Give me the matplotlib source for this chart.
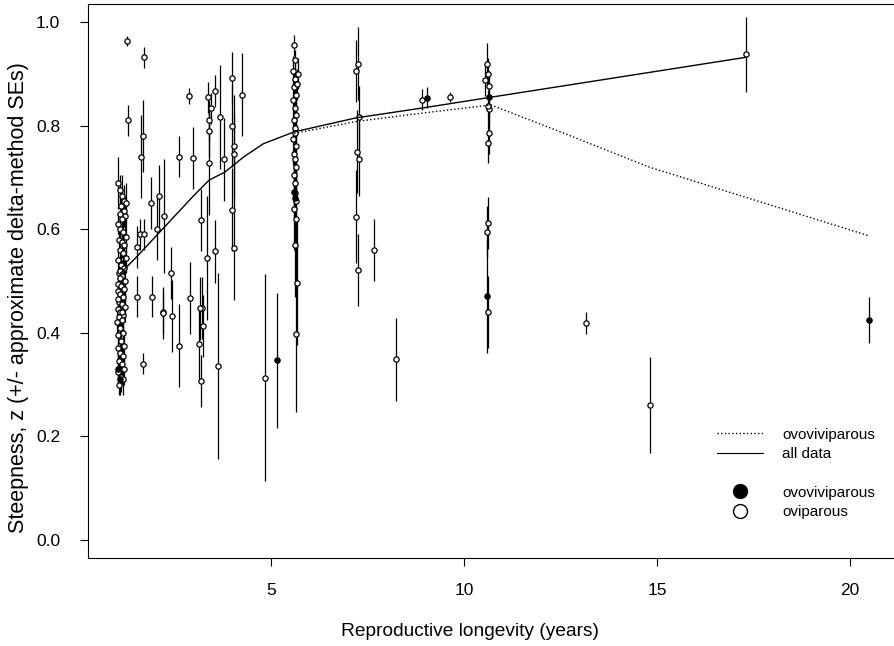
import matplotlib
matplotlib.use("Agg")
import matplotlib.pyplot as plt
from matplotlib.lines import Line2D

plt.rcParams['font.family'] = ['Liberation Sans', 'DejaVu Sans']

# oviparous species: longevity, steepness z, approximate SE
ovi_x = [1.05, 1.10, 1.15, 1.20, 1.25, 1.12, 1.18, 1.08, 1.22, 1.14,
         1.05, 1.10, 1.17, 1.25, 1.06, 1.13, 1.20, 1.09, 1.16, 1.24,
         1.04, 1.11, 1.19, 1.07, 1.15, 1.23, 1.05, 1.12, 1.18, 1.03,
         1.09, 1.16, 1.06, 1.13, 1.21, 1.04, 1.10, 1.17, 1.07, 1.14,
         1.02, 1.09, 1.16, 1.05, 1.12, 1.19, 1.03, 1.10, 1.16, 1.06,
         1.13, 1.20, 1.04, 1.11, 1.17, 1.07, 1.14, 1.05, 1.10, 1.08,
         1.26, 1.71, 1.29, 1.69, 1.63, 1.89, 2.10, 2.24, 2.04, 1.62,
         1.70, 1.53, 1.53, 1.93, 2.20, 2.41, 2.62, 2.98, 2.88, 3.19,
         3.34, 2.89, 3.21, 3.37, 3.55, 3.44, 3.40, 3.39, 3.68, 3.39,
         3.55, 3.78, 4.00, 3.98, 4.04, 4.04, 3.99, 4.04, 4.26, 2.20,
         2.43, 2.62, 3.14, 3.19, 3.24, 3.16, 1.68, 3.62, 4.85,
         5.60, 5.62, 5.58, 5.63, 5.60, 5.65, 5.58, 5.62, 5.66, 5.59,
         5.63, 5.61, 5.57, 5.64, 5.60, 5.62, 5.66, 5.59, 5.63, 5.61,
         5.65, 5.60, 5.64, 5.62, 5.68, 5.66, 5.70, 5.67,
         7.25, 7.20, 7.28, 7.22, 7.28, 7.20, 7.26, 7.67, 8.24,
         8.90, 9.65, 10.60, 10.63, 10.55, 10.65, 10.66, 10.62, 10.66,
         10.62, 10.62, 10.60, 10.62, 13.16, 14.82, 17.30]
ovi_y = [0.690, 0.675, 0.665, 0.655, 0.650, 0.645, 0.635, 0.630, 0.625, 0.620,
         0.610, 0.600, 0.595, 0.585, 0.580, 0.575, 0.570, 0.560, 0.555, 0.545,
         0.540, 0.530, 0.525, 0.515, 0.510, 0.500, 0.495, 0.490, 0.485, 0.480,
         0.475, 0.470, 0.460, 0.455, 0.450, 0.445, 0.440, 0.435, 0.430, 0.425,
         0.420, 0.410, 0.400, 0.395, 0.385, 0.375, 0.370, 0.360, 0.355, 0.345,
         0.340, 0.330, 0.325, 0.315, 0.310, 0.300, 0.440, 0.465, 0.505, 0.520,
         0.964, 0.932, 0.810, 0.780, 0.740, 0.650, 0.665, 0.625, 0.600, 0.590,
         0.590, 0.566, 0.470, 0.470, 0.440, 0.515, 0.740, 0.737, 0.857, 0.617,
         0.544, 0.467, 0.448, 0.855, 0.867, 0.834, 0.810, 0.790, 0.817, 0.727,
         0.557, 0.735, 0.892, 0.800, 0.760, 0.745, 0.638, 0.564, 0.860, 0.438,
         0.432, 0.375, 0.378, 0.307, 0.413, 0.447, 0.340, 0.336, 0.313,
         0.955, 0.927, 0.905, 0.890, 0.875, 0.860, 0.850, 0.835, 0.820, 0.810,
         0.795, 0.785, 0.775, 0.760, 0.745, 0.735, 0.720, 0.705, 0.690, 0.670,
         0.655, 0.640, 0.620, 0.570, 0.497, 0.397, 0.900, 0.880,
         0.920, 0.905, 0.817, 0.750, 0.735, 0.624, 0.521, 0.560, 0.349,
         0.850, 0.855, 0.920, 0.900, 0.888, 0.876, 0.832, 0.838, 0.786,
         0.767, 0.612, 0.594, 0.440, 0.419, 0.260, 0.938]
ovi_se = [0.05, 0.03, 0.04, 0.03, 0.04, 0.02, 0.03, 0.03, 0.04, 0.05,
          0.02, 0.03, 0.04, 0.03, 0.02, 0.03, 0.02, 0.03, 0.04, 0.03,
          0.02, 0.03, 0.04, 0.02, 0.03, 0.04, 0.03, 0.02, 0.03, 0.02,
          0.03, 0.04, 0.02, 0.03, 0.03, 0.02, 0.02, 0.03, 0.02, 0.03,
          0.02, 0.04, 0.02, 0.03, 0.04, 0.03, 0.03, 0.04, 0.03, 0.03,
          0.04, 0.03, 0.03, 0.03, 0.03, 0.02, 0.03, 0.03, 0.02, 0.03,
          0.01, 0.02, 0.03, 0.07, 0.08, 0.05, 0.06, 0.11, 0.06, 0.03,
          0.03, 0.04, 0.04, 0.04, 0.04, 0.05, 0.04, 0.06, 0.015, 0.06,
          0.12, 0.07, 0.06, 0.03, 0.03, 0.03, 0.04, 0.05, 0.10, 0.10,
          0.06, 0.08, 0.05, 0.08, 0.10, 0.08, 0.08, 0.10, 0.08, 0.05,
          0.07, 0.08, 0.07, 0.05, 0.06, 0.06, 0.02, 0.18, 0.20,
          0.02, 0.02, 0.03, 0.03, 0.03, 0.04, 0.03, 0.04, 0.04, 0.05,
          0.04, 0.05, 0.05, 0.06, 0.05, 0.06, 0.06, 0.07, 0.06, 0.07,
          0.08, 0.08, 0.09, 0.10, 0.12, 0.15, 0.03, 0.03,
          0.07, 0.06, 0.06, 0.08, 0.07, 0.09, 0.07, 0.06, 0.08,
          0.02, 0.01, 0.04, 0.03, 0.03, 0.03, 0.03, 0.03, 0.04,
          0.04, 0.05, 0.05, 0.07, 0.022, 0.093, 0.072]

# ovoviviparous species
ovo_x = [1.05, 1.08, 5.16, 5.60, 5.62, 9.03, 10.60, 10.64, 20.50]
ovo_y = [0.330, 0.310, 0.347, 0.672, 0.660, 0.854, 0.471, 0.855, 0.425]
ovo_se = [0.03, 0.03, 0.13, 0.05, 0.05, 0.02, 0.11, 0.03, 0.045]

# smoothed trends
all_x = [1.1, 1.5, 2.0, 2.5, 3.0, 3.4, 3.8, 4.3, 4.8, 5.6, 7.2, 9.0, 10.7, 17.3]
all_y = [0.515, 0.545, 0.585, 0.625, 0.665, 0.695, 0.710, 0.740, 0.765,
         0.788, 0.815, 0.835, 0.855, 0.932]
ovo_line_x = [5.6, 7.2, 9.0, 10.7, 12.5, 14.8, 20.5]
ovo_line_y = [0.785, 0.808, 0.825, 0.840, 0.788, 0.720, 0.587]

fig = plt.figure(figsize=(8.94, 6.46), dpi=100)
ax = fig.add_axes([88 / 894, 88 / 646, (894 - 88) / 894, (642 - 88) / 646])

ax.errorbar(ovi_x, ovi_y, yerr=ovi_se, fmt='none', ecolor='black', elinewidth=0.9)
ax.errorbar(ovo_x, ovo_y, yerr=ovo_se, fmt='none', ecolor='black', elinewidth=0.9)
ax.plot(ovi_x, ovi_y, 'o', ms=3.8, mfc='white', mec='black', mew=0.9, ls='none')
ax.plot(ovo_x, ovo_y, 'o', ms=3.8, mfc='black', mec='black', mew=0.9, ls='none')

ax.plot(all_x, all_y, '-', color='black', lw=1.0)
ax.plot(ovo_line_x, ovo_line_y, ':', color='black', lw=1.0)

ax.set_xlim(0.26, 21.14)
ax.set_ylim(-0.035, 1.035)
ax.set_xticks([5, 10, 15, 20])
ax.set_yticks([0.0, 0.2, 0.4, 0.6, 0.8, 1.0])
ax.set_yticklabels(['0.0', '0.2', '0.4', '0.6', '0.8', '1.0'])
ax.spines['right'].set_visible(False)
ax.tick_params(direction='out', length=6, width=0.8, labelsize=12.5)
ax.tick_params(axis='y', pad=14)
ax.tick_params(axis='x', pad=12)
ax.set_xlabel('Reproductive longevity (years)', fontsize=13.8)
ax.set_ylabel('Steepness, z (+/- approximate delta-method SEs)', fontsize=15.5)
ax.xaxis.set_label_coords(0.474, -0.117)
ax.yaxis.set_label_coords(-0.073, 0.47)

leg1 = ax.legend(handles=[Line2D([], [], ls=':', color='black', lw=1.0),
                          Line2D([], [], ls='-', color='black', lw=0.8)],
                 labels=['ovoviviparous', 'all data'],
                 loc='upper left', bbox_to_anchor=(703 / 894, 1 - 414 / 646),
                 bbox_transform=fig.transFigure, frameon=False, fontsize=11,
                 handlelength=3.0, handletextpad=1.3, labelspacing=0.35)
ax.add_artist(leg1)
ax.legend(handles=[Line2D([], [], marker='o', ls='none', ms=10, mfc='black', mec='black'),
                   Line2D([], [], marker='o', ls='none', ms=10, mfc='white', mec='black')],
          labels=['ovoviviparous', 'oviparous'],
          loc='upper left', bbox_to_anchor=(703 / 894, 1 - 472 / 646),
          bbox_transform=fig.transFigure, frameon=False, fontsize=11,
          handlelength=3.0, handletextpad=1.3, labelspacing=0.35)

fig.savefig('out.png', dpi=100)
